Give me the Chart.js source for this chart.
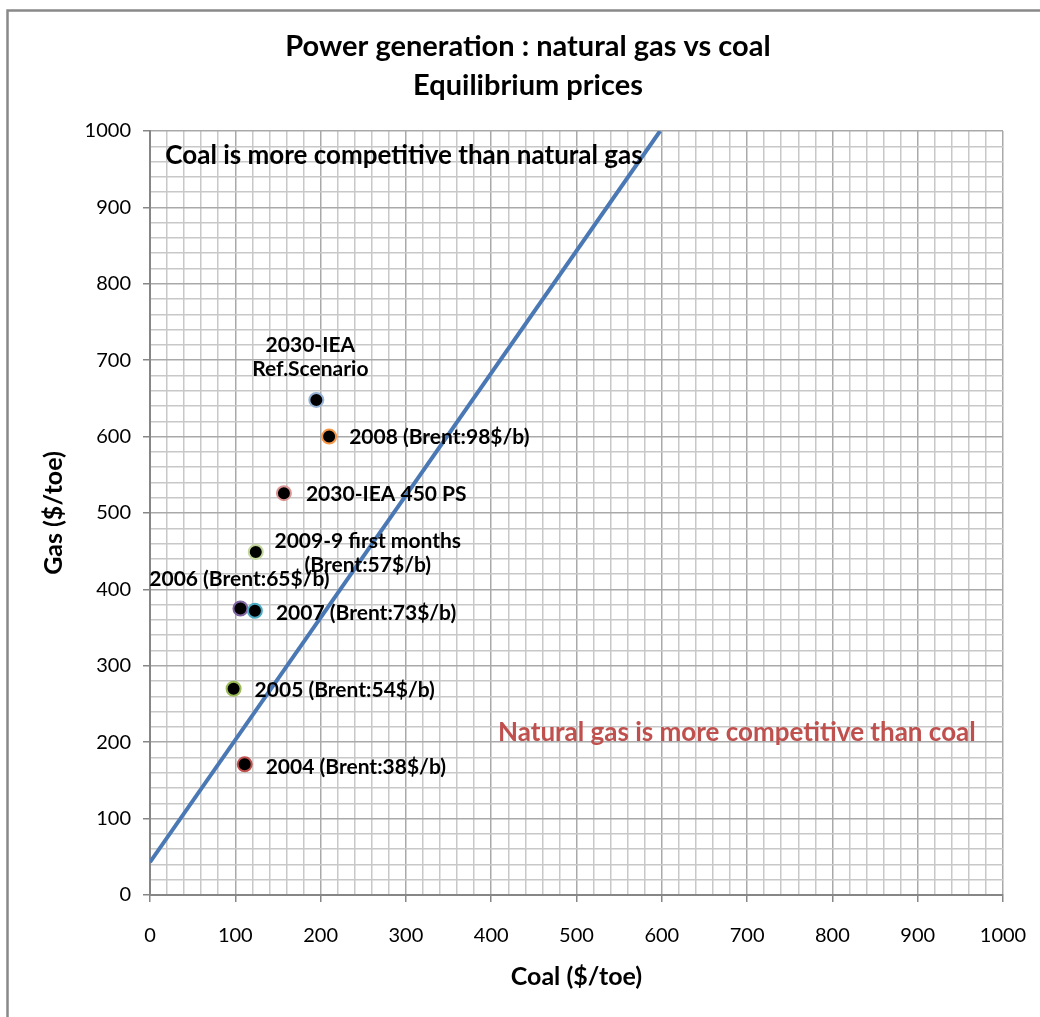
<!DOCTYPE html>
<html>
<head>
<meta charset="utf-8">
<title>Power generation : natural gas vs coal</title>
<script src="https://cdn.jsdelivr.net/npm/chart.js@4.4.1/dist/chart.umd.min.js"></script>
<style>
    html, body { margin: 0; padding: 0; background: #fff; }
    #wrap { width: 1040px; height: 1017px; }
</style>
</head>
<body>
<div id="wrap"><canvas id="equilibriumChart"></canvas></div>
<script>
// Scatter points: coal vs gas price ($/toe)
const pointNames = [
    ["2030-IEA", "Ref.Scenario"],
    ["2008 (Brent:98$/b)"],
    ["2030-IEA 450 PS"],
    ["2009-9 first months", "(Brent:57$/b)"],
    ["2006 (Brent:65$/b)"],
    ["2007 (Brent:73$/b)"],
    ["2005 (Brent:54$/b)"],
    ["2004 (Brent:38$/b)"]
];
const coalPrices = [195, 210, 157, 124, 106, 123, 98, 111];
const gasPrices = [648, 600, 526, 449, 375, 372, 270, 171];

// Equilibrium line end points
const lineCoal = [0, 598];
const lineGas = [43, 1000];

// Axis ticks
const axisMin = 0;
const axisMax = 1000;
const minorStep = 20;
const majorStep = 100;

// Region annotations [text, coal, gas]
const regionNotes = [
    ["Coal is more competitive than natural gas", 18, 968],
    ["Natural gas is more competitive than coal", 408, 212]
];

// Styling
const markerBorders = ["#95b3d7", "#f79646", "#d99694", "#c3d69b", "#8064a2", "#4bacc6", "#9bbb59", "#c0504d"];
const noteColors = ["#000000", "#c0504d"];
// label placement relative to marker: [dx, dy, align]
const labelPlacement = [
    [-6, -55, "center"],
    [20, 1, "left"],
    [22, 1, "left"],
    [112, -11, "center"],
    [-1, -29, "center"],
    [21, 2, "left"],
    [21, 2, "left"],
    [21, 3, "left"]
];
const FONT = "Lato, 'Open Sans', sans-serif";

const scatterData = coalPrices.map((c, i) => ({ x: c, y: gasPrices[i] }));
const lineData = lineCoal.map((c, i) => ({ x: c, y: lineGas[i] }));

const isMajor = v => Math.round(v) % majorStep === 0;

const frameAndText = {
    id: "frameAndText",
    beforeDraw(chart) {
        const ctx = chart.ctx;
        ctx.save();
        ctx.strokeStyle = "#898989";
        ctx.lineWidth = 2.5;
        ctx.strokeRect(7.5, 10.5, 1100, 1100);
        ctx.restore();
    },
    afterDatasetsDraw(chart) {
        const ctx = chart.ctx;
        const xs = chart.scales.x, ys = chart.scales.y;
        ctx.save();
        // title
        ctx.fillStyle = "#000";
        ctx.textAlign = "center";
        ctx.textBaseline = "middle";
        ctx.font = "bold 29px " + FONT;
        ctx.fillText("Power generation : natural gas vs coal", 528, 47);
        ctx.fillText("Equilibrium prices", 528, 86);

        // point labels
        ctx.font = "bold 21px " + FONT;
        const meta = chart.getDatasetMeta(1);
        meta.data.forEach((pt, i) => {
            const [dx, dy, align] = labelPlacement[i];
            ctx.textAlign = align;
            pointNames[i].forEach((line, k) => {
                ctx.fillText(line, pt.x + dx, pt.y + dy + k * 24);
            });
        });

        // region notes
        ctx.font = "bold 26px " + FONT;
        ctx.textAlign = "left";
        regionNotes.forEach((n, i) => {
            ctx.fillStyle = noteColors[i];
            ctx.fillText(n[0], xs.getPixelForValue(n[1]), ys.getPixelForValue(n[2]));
        });
        ctx.restore();
    }
};

function axisOptions(titleText, isX) {
    return {
        type: "linear",
        min: axisMin,
        max: axisMax,
        border: { color: "#868686", width: 2 },
        grid: {
            color: c => isMajor(c.tick.value) ? "#a9a9a9" : "#c8c8c8",
            lineWidth: 1.5,
            tickColor: c => isMajor(c.tick.value) ? "#868686" : "rgba(0,0,0,0)",
            tickLength: 7,
            drawTicks: true
        },
        ticks: {
            stepSize: minorStep,
            autoSkip: false,
            maxRotation: 0,
            minRotation: 0,
            color: "#000",
            padding: isX ? 22 : 12,
            font: { family: FONT, size: 20 },
            callback: v => isMajor(v) ? String(v) : ""
        },
        title: {
            display: true,
            text: titleText,
            color: "#000",
            font: { family: FONT, size: 25, weight: "bold" },
            padding: isX ? { top: 0, bottom: 25 } : { top: 39, bottom: 0 }
        },
        afterFit(scale) {
            if (isX) {
                scale.height = 122;
                scale.paddingRight = 0;
                scale.paddingLeft = 0;
            } else {
                scale.width = 150;
            }
        }
    };
}

new Chart(document.getElementById("equilibriumChart"), {
    type: "scatter",
    data: {
        datasets: [
            {
                label: "Equilibrium",
                type: "line",
                data: lineData,
                borderColor: "#4a78b4",
                borderWidth: 4,
                pointRadius: 0,
                fill: false,
                tension: 0
            },
            {
                label: "Prices",
                data: scatterData,
                backgroundColor: "#000",
                borderColor: markerBorders,
                borderWidth: 2,
                pointRadius: 7,
                pointHoverRadius: 7
            }
        ]
    },
    options: {
        responsive: true,
        maintainAspectRatio: false,
        animation: false,
        layout: { padding: { top: 131, right: 37, left: 0, bottom: 0 } },
        plugins: {
            legend: { display: false },
            title: { display: false },
            tooltip: { enabled: false }
        },
        scales: {
            x: axisOptions("Coal ($/toe)", true),
            y: axisOptions("Gas ($/toe)", false)
        }
    },
    plugins: [frameAndText]
});
</script>
</body>
</html>
